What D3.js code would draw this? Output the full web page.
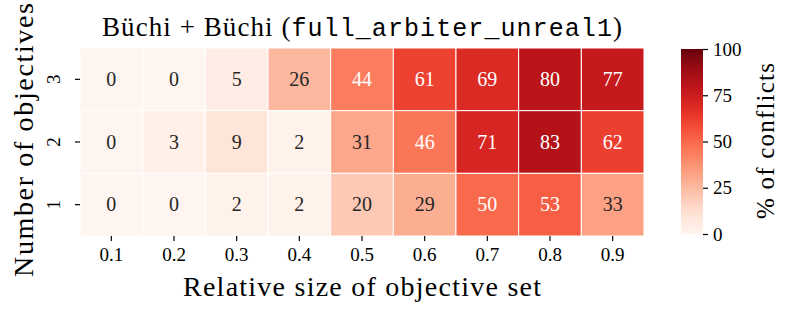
<!DOCTYPE html>
<html>
<head>
<meta charset="utf-8">
<script src="https://cdn.jsdelivr.net/npm/d3@7"></script>
<style>
  body { margin: 0; background: #fff; }
  svg text { font-family: "Liberation Serif", "DejaVu Serif", serif; fill: #000; }
</style>
</head>
<body>
<div id="chart"></div>
<script>
const sizes = ["0.1", "0.2", "0.3", "0.4", "0.5", "0.6", "0.7", "0.8", "0.9"];
const objectives = ["3", "2", "1"];
const conflicts3 = [0, 0, 5, 26, 44, 61, 69, 80, 77];
const conflicts2 = [0, 3, 9, 2, 31, 46, 71, 83, 62];
const conflicts1 = [0, 0, 2, 2, 20, 29, 50, 53, 33];
const colorTicks = [0, 25, 50, 75, 100];

const rows = [conflicts3, conflicts2, conflicts1];
const cells = [];
rows.forEach((vals, r) => vals.forEach((v, c) => cells.push({ row: objectives[r], col: sizes[c], value: v })));

const W = 793, H = 316;
const margin = { top: 48, left: 80 };
const plotW = 564, plotH = 188;

const svg = d3.select("#chart").append("svg")
    .attr("width", W)
    .attr("height", H);

const g = svg.append("g").attr("transform", `translate(${margin.left},${margin.top})`);

const x = d3.scaleBand().domain(sizes).range([0, plotW]);
const y = d3.scaleBand().domain(objectives).range([0, plotH]);
const color = d3.scaleSequential(d3.interpolateReds).domain([0, 100]);

// text colour like seaborn: dark text on light cells
function textColor(c) {
    const rgb = d3.rgb(c);
    const lin = v => { v /= 255; return v <= 0.03928 ? v / 12.92 : Math.pow((v + 0.055) / 1.055, 2.4); };
    const lum = 0.2126 * lin(rgb.r) + 0.7152 * lin(rgb.g) + 0.0722 * lin(rgb.b);
    return lum > 0.408 ? "#262626" : "#ffffff";
}

g.selectAll("rect.cell")
    .data(cells)
    .enter().append("rect")
    .attr("class", "cell")
    .attr("x", d => x(d.col))
    .attr("y", d => y(d.row))
    .attr("width", x.bandwidth())
    .attr("height", y.bandwidth())
    .attr("fill", d => color(d.value))
    .attr("stroke", "#fff")
    .attr("stroke-width", 1);

g.selectAll("text.val")
    .data(cells)
    .enter().append("text")
    .attr("class", "val")
    .attr("x", d => x(d.col) + x.bandwidth() / 2)
    .attr("y", d => y(d.row) + y.bandwidth() / 2)
    .attr("text-anchor", "middle")
    .attr("dy", "0.33em")
    .attr("font-size", 20)
    .style("fill", d => textColor(color(d.value)))
    .text(d => d.value);

// axes
const xAxis = g.append("g")
    .attr("transform", `translate(0,${plotH})`)
    .call(d3.axisBottom(x).tickSize(5).tickPadding(7));
xAxis.select(".domain").remove();
xAxis.selectAll("text").attr("font-size", 19).style("font-family", "Liberation Serif, serif").style("fill", "#000");
xAxis.selectAll("line").attr("stroke", "#000").attr("stroke-width", 1.2);

const yAxis = g.append("g")
    .call(d3.axisLeft(y).tickSize(5).tickPadding(8));
yAxis.select(".domain").remove();
yAxis.selectAll("line").attr("stroke", "#000").attr("stroke-width", 1.2);
yAxis.selectAll("text")
    .attr("font-size", 19)
    .style("font-family", "Liberation Serif, serif")
    .style("fill", "#000")
    .attr("text-anchor", "middle")
    .attr("dy", null)
    .attr("x", 0)
    .attr("transform", "translate(-24,0) rotate(-90)")
    .attr("dominant-baseline", "middle");

// title
const title = svg.append("text")
    .attr("x", margin.left + plotW / 2)
    .attr("y", 36)
    .attr("text-anchor", "middle")
    .attr("font-size", 27)
    .attr("textLength", 520)
    .attr("lengthAdjust", "spacing");
title.append("tspan").text("Büchi + Büchi (");
title.append("tspan").style("font-family", "'Liberation Mono', 'DejaVu Sans Mono', monospace").attr("font-size", 25).text("full_arbiter_unreal1");
title.append("tspan").text(")");

// axis labels
svg.append("text")
    .attr("x", margin.left + plotW / 2)
    .attr("y", 296)
    .attr("text-anchor", "middle")
    .attr("font-size", 28)
    .attr("textLength", 358)
    .attr("lengthAdjust", "spacing")
    .text("Relative size of objective set");

svg.append("text")
    .attr("transform", `translate(33,${margin.top + plotH / 2 - 2}) rotate(-90)`)
    .attr("text-anchor", "middle")
    .attr("font-size", 28)
    .attr("textLength", 274)
    .attr("lengthAdjust", "spacing")
    .text("Number of objectives");

// colorbar
const cbX = 681, cbW = 22;
const cy = d3.scaleLinear().domain([0, 100]).range([margin.top + plotH - 2, margin.top + 1]);
const defs = svg.append("defs");
const grad = defs.append("linearGradient")
    .attr("id", "cbar")
    .attr("x1", 0).attr("y1", 1).attr("x2", 0).attr("y2", 0);
d3.range(0, 1.0001, 0.05).forEach(t => {
    grad.append("stop").attr("offset", t).attr("stop-color", color(t * 100));
});
svg.append("rect")
    .attr("x", cbX)
    .attr("y", cy(100))
    .attr("width", cbW)
    .attr("height", cy(0) - cy(100))
    .attr("fill", "url(#cbar)");

const cAxis = svg.append("g")
    .attr("transform", `translate(${cbX + cbW},0)`)
    .call(d3.axisRight(cy).tickValues(colorTicks).tickSize(5).tickPadding(5));
cAxis.select(".domain").remove();
cAxis.selectAll("line").attr("stroke", "#000").attr("stroke-width", 1.2);
cAxis.selectAll("text").attr("font-size", 19).style("font-family", "Liberation Serif, serif").style("fill", "#000");

svg.append("text")
    .attr("transform", `translate(765,${141}) rotate(-90)`)
    .attr("text-anchor", "middle")
    .attr("dy", "0.35em")
    .attr("font-size", 25)
    .attr("textLength", 156)
    .attr("lengthAdjust", "spacing")
    .text("% of conflicts");
</script>
</body>
</html>
